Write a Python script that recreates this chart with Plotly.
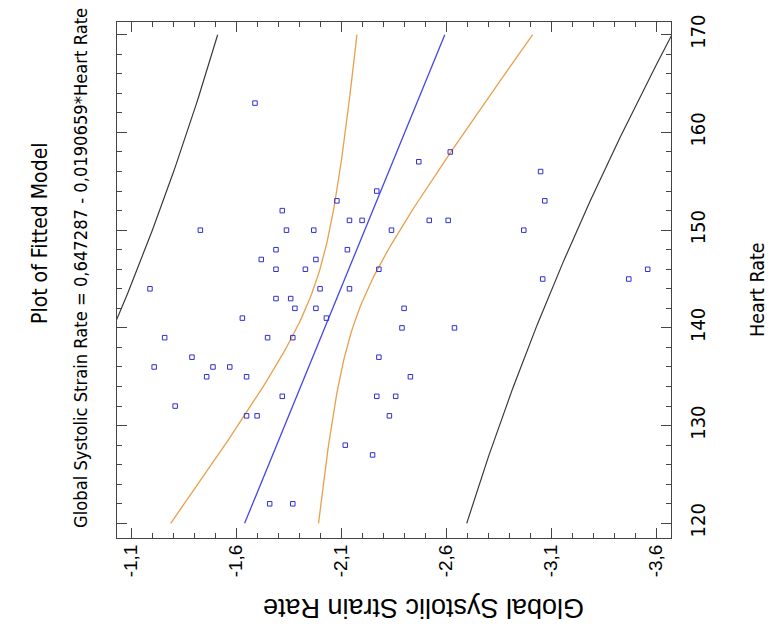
import numpy as np
import plotly.graph_objects as go

# ---- data ----
heart_rate = [158, 157, 154, 153, 152, 151, 151, 151, 151, 150, 150, 150, 150,
              148, 148, 147, 147, 146, 146, 146, 144, 144, 144, 143, 143, 142,
              142, 142, 141, 141, 140, 140, 139, 139, 139, 137, 137, 136, 136,
              136, 135, 135, 135, 133, 133, 133, 132, 131, 131, 131, 128, 163,
              150, 153, 156, 145, 145, 146, 127, 122, 122]
strain_rate = [-2.62, -2.47, -2.27, -2.08, -1.82, -2.14, -2.20, -2.52, -2.61,
               -1.43, -1.84, -1.97, -2.34, -1.79, -2.13, -1.72, -1.98, -1.79,
               -1.93, -2.28, -1.19, -2.00, -2.14, -1.79, -1.86, -1.88, -1.98,
               -2.40, -1.63, -2.03, -2.39, -2.64, -1.26, -1.75, -1.87, -1.39,
               -2.28, -1.21, -1.49, -1.57, -1.46, -1.65, -2.43, -1.82, -2.27,
               -2.36, -1.31, -1.65, -1.70, -2.33, -2.12, -1.69, -2.97, -3.07,
               -3.05, -3.06, -3.47, -3.56, -2.25, -1.76, -1.87]

intercept = 0.647287
slope = -0.0190659
t_crit = 2.001  # 95%, n-2 df

strain_ticks = [-1.1, -1.6, -2.1, -2.6, -3.1, -3.6]
strain_tick_text = ["-1,1", "-1,6", "-2,1", "-2,6", "-3,1", "-3,6"]
hr_ticks = [120, 130, 140, 150, 160, 170]
hr_tick_text = ["120", "130", "140", "150", "160", "170"]

# ---- model & bands ----
x = np.array(heart_rate, float)
y = np.array(strain_rate, float)
n = len(x)
resid = y - (intercept + slope * x)
s = np.sqrt(np.sum(resid ** 2) / (n - 2))
xbar = x.mean()
sxx = np.sum((x - xbar) ** 2)
grid = np.linspace(120, 170, 101)
fit = intercept + slope * grid
se_conf = s * np.sqrt(1 / n + (grid - xbar) ** 2 / sxx)
se_pred = s * np.sqrt(1 + 1 / n + (grid - xbar) ** 2 / sxx)

# ---- figure geometry (pixels) ----
W, H = 774, 629
L, R, T, B = 117, 671, 22, 538


def px(xp, yp):
    return (xp - L) / (R - L), (B - yp) / (B - T)


NARROW = "Liberation Sans Narrow, Arial Narrow, DejaVu Sans Condensed, sans-serif"
REG = "Liberation Sans, Arial, sans-serif"

fig = go.Figure()
for yy in (fit - t_crit * se_pred, fit + t_crit * se_pred):
    fig.add_trace(go.Scatter(x=yy, y=grid, mode="lines",
                             line=dict(color="#3a3a3a", width=1.2), showlegend=False))
for yy in (fit - t_crit * se_conf, fit + t_crit * se_conf):
    fig.add_trace(go.Scatter(x=yy, y=grid, mode="lines",
                             line=dict(color="#e8a04c", width=1.3), showlegend=False))
fig.add_trace(go.Scatter(x=fit, y=grid, mode="lines",
                         line=dict(color="#4646e6", width=1.3), showlegend=False))
fig.add_trace(go.Scatter(x=strain_rate, y=heart_rate, mode="markers",
                         marker=dict(symbol="square-open", size=4.5, color="#3030d0",
                                     line=dict(width=1)),
                         showlegend=False))

fig.update_layout(
    width=W, height=H, autosize=False,
    margin=dict(l=L, r=W - R, t=T, b=H - B, pad=0),
    paper_bgcolor="white", plot_bgcolor="white",
    showlegend=False,
    xaxis=dict(range=[-1.033, -3.671], tickmode="array", tickvals=strain_ticks,
               ticktext=strain_tick_text, tickangle=-90, ticks="inside", ticklen=10,
               tickcolor="#444", showline=True, linecolor="#444", linewidth=1,
               mirror="ticks", showgrid=False, zeroline=False,
               tickfont=dict(family=REG, size=19, color="black"),
               ticklabelstandoff=-2,
               minor=dict(dtick=0.1, tick0=-1.1, ticks="inside", ticklen=5,
                          tickcolor="#444", showgrid=False)),
    yaxis=dict(range=[118.5, 171.3], side="right", tickmode="array", tickvals=hr_ticks,
               ticktext=hr_tick_text, tickangle=-90, ticks="inside", ticklen=10,
               tickcolor="#444", showline=True, linecolor="#444", linewidth=1,
               mirror="ticks", showgrid=False, zeroline=False,
               tickfont=dict(family=NARROW, size=20, color="black"),
               ticklabelstandoff=9,
               minor=dict(dtick=2, tick0=120, ticks="inside", ticklen=5,
                          tickcolor="#444", showgrid=False)),
)

annots = [
    ("Plot of Fitted Model", 40, 233, -90, NARROW, 21),
    ("Global Systolic Strain Rate = 0,647287 - 0,0190659*Heart Rate", 80, 268, -90, NARROW, 18.2),
    ("Heart Rate", 757, 290, -90, NARROW, 19.5),
    ("Global Systolic Strain Rate", 424, 608, 180, REG, 27),
]
for text, ax_, ay_, ang, fam, size in annots:
    xp, yp = px(ax_, ay_)
    fig.add_annotation(text=text, x=xp, y=yp, xref="paper", yref="paper",
                       showarrow=False, textangle=ang, xanchor="center", yanchor="middle",
                       font=dict(family=fam, size=size, color="black"))

fig.write_html("out.html")
